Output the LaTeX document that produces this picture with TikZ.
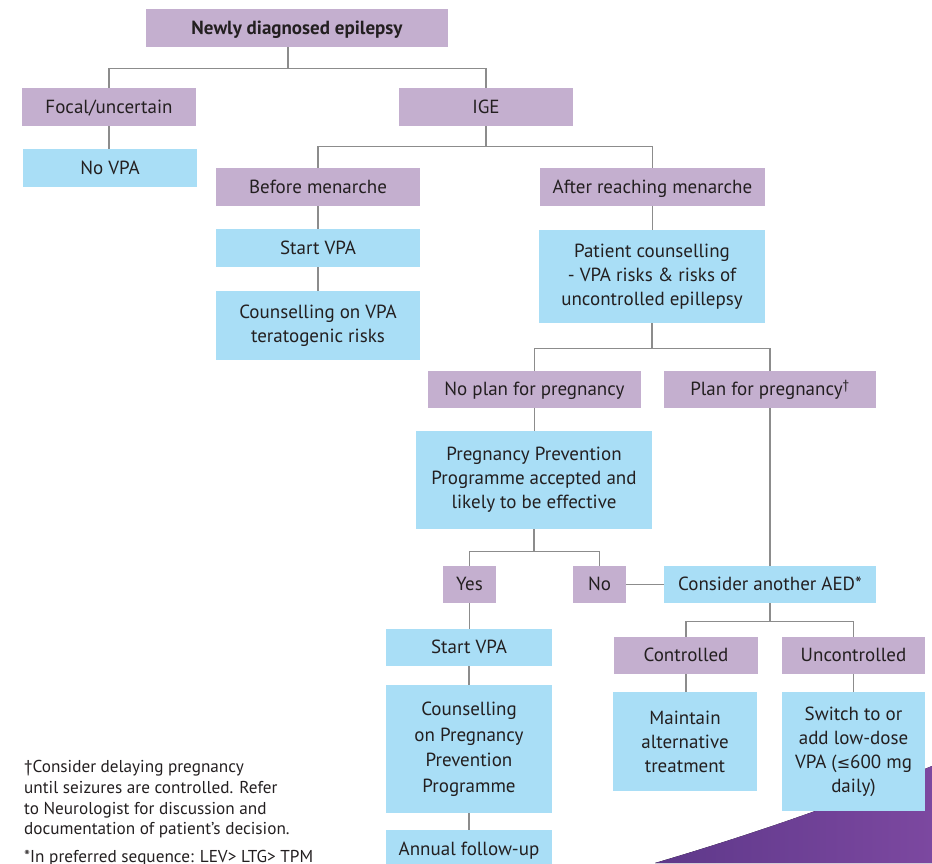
\documentclass[tikz,border=0pt]{standalone}
\usepackage{fontspec}
\setmainfont{PT Sans}
\newfontfamily\symfont{DejaVu Sans}
\usetikzlibrary{calc}
\definecolor{boxpurple}{RGB}{196,175,207}
\definecolor{boxblue}{RGB}{169,222,246}
\definecolor{linegray}{RGB}{140,140,140}
\definecolor{textc}{RGB}{35,31,32}
\definecolor{wedgeL}{RGB}{94,56,138}
\definecolor{wedgeR}{RGB}{124,72,160}
\tikzset{
  basebox/.style={inner sep=0pt, align=center, text=textc, font=\fontsize{19}{24}\selectfont},
  pbox/.style={basebox, fill=boxpurple},
  bbox/.style={basebox, fill=boxblue},
  one/.style={text height=16pt, text depth=4pt},
  conn/.style={draw=linegray, line width=1.3pt},
  foot/.style={inner sep=0pt, align=left, anchor=north west, text=textc, font=\fontsize{17.2}{20.8}\selectfont}
}
\begin{document}
\begin{tikzpicture}[x=1pt,y=-1pt]
\useasboundingbox (0,0) rectangle (932,863);
\clip (0,0) rectangle (932,863);
% decorative wedge
\fill[left color=wedgeL, right color=wedgeR] (655,863) .. controls (760,832) and (850,800) .. (932,766) -- (932,863) -- cycle;
% nodes
\node[pbox, one, minimum width=302pt, minimum height=38pt, font=\fontsize{19}{24}\selectfont\bfseries] (newly) at (297,28) {Newly diagnosed epilepsy};
\node[pbox, one, minimum width=174pt, minimum height=38pt] (focal) at (109,107) {Focal/uncertain};
\node[pbox, one, minimum width=174pt, minimum height=38pt] (ige) at (486,107) {IGE};
\node[bbox, one, minimum width=174pt, minimum height=38pt] (novpa) at (110,168) {No VPA};
\node[pbox, one, minimum width=204pt, minimum height=38pt] (before) at (318,187) {Before menarche};
\node[pbox, one, minimum width=225pt, minimum height=38pt] (after) at (652.5,187) {After reaching menarche};
\node[bbox, one, minimum width=204pt, minimum height=38pt] (start1) at (318,248) {Start VPA};
\node[bbox, minimum width=204pt, minimum height=69pt] (couns1) at (318,325.5) {Counselling on VPA\\teratogenic risks};
\node[bbox, minimum width=226pt, minimum height=93pt] (patient) at (652,276.5) {Patient counselling\\- VPA risks \& risks of\\uncontrolled epillepsy};
\node[pbox, one, minimum width=213pt, minimum height=37pt] (noplan) at (534.5,389.5) {No plan for pregnancy};
\node[pbox, one, minimum width=212pt, minimum height=37pt] (plan) at (770,389.5) {Plan for pregnancy\textsuperscript{†}};
\node[bbox, minimum width=236pt, minimum height=98pt] (ppp) at (534,480) {Pregnancy Prevention\\Programme accepted and\\likely to be effective};
\node[pbox, one, minimum width=53pt, minimum height=37pt] (yes) at (469.5,584.5) {Yes};
\node[pbox, one, minimum width=53pt, minimum height=37pt] (no) at (599.5,584.5) {No};
\node[bbox, one, minimum width=212pt, minimum height=37pt] (consider) at (770,584.5) {Consider another AED*};
\node[pbox, one, minimum width=144pt, minimum height=37pt] (controlled) at (686,655.5) {Controlled};
\node[pbox, one, minimum width=143pt, minimum height=37pt] (uncontrolled) at (853.5,655.5) {Uncontrolled};
\node[bbox, minimum width=144pt, minimum height=99pt] (maintain) at (685,741.5) {Maintain\\alternative\\treatment};
\node[bbox, minimum width=143pt, minimum height=119pt] (switch) at (853.5,751.5) {Switch to or\\add low-dose\\VPA ({\symfont\fontsize{16}{24}\selectfont ≤}600 mg\\daily)};
\node[bbox, one, minimum width=166pt, minimum height=37pt] (start2) at (469,647.5) {Start VPA};
\node[bbox, minimum width=166pt, minimum height=128pt, font=\fontsize{19}{25.5}\selectfont] (couns2) at (469,749) {Counselling\\on Pregnancy\\Prevention\\Programme};
\node[bbox, one, minimum width=166pt, minimum height=38pt, anchor=north] (annual) at (469,830) {Annual follow-up};
% footnotes
\node[foot] (fn1) at (24,760) {†Consider delaying pregnancy\\until seizures are controlled. Refer\\to Neurologist for discussion and\\documentation of patient’s decision.};
\node[foot] (fn2) at (24,850) {*In preferred sequence: LEV> LTG> TPM};
% connectors
\draw[conn] ([xshift=-9pt]newly.south) -- ++(0,21) -| (focal.north);
\draw[conn] ([xshift=-9pt]newly.south) -- ++(0,21) -| (ige.north);
\draw[conn] (focal.south) -- (focal.south |- novpa.north);
\draw[conn] (ige.south) -- ++(0,20) -| (before.north);
\draw[conn] (ige.south) -- ++(0,20) -| (after.north);
\draw[conn] (before.south) -- (start1.north);
\draw[conn] (start1.south) -- (couns1.north);
\draw[conn] (after.south) -- (after.south |- patient.north);
\draw[conn] (patient.south) -- ++(0,25) -| (noplan.north);
\draw[conn] (patient.south) -- ++(0,25) -| (plan.north);
\draw[conn] (noplan.south) -- (noplan.south |- ppp.north);
\draw[conn] (ppp.south) -- ++(0,22) -| (yes.north);
\draw[conn] (ppp.south) -- ++(0,22) -| (no.north);
\draw[conn] (plan.south) -- (consider.north);
\draw[conn] (no.east) -- (consider.west);
\draw[conn] (consider.south) -- ++(0,18) -| (controlled.north);
\draw[conn] (consider.south) -- ++(0,18) -| (uncontrolled.north);
\draw[conn] (controlled.south) -- (controlled.south |- maintain.north);
\draw[conn] (uncontrolled.south) -- (switch.north);
\draw[conn] (yes.south) -- (yes.south |- start2.north);
\draw[conn] (start2.south) -- (couns2.north);
\draw[conn] (couns2.south) -- (annual.north);
\end{tikzpicture}
\end{document}
